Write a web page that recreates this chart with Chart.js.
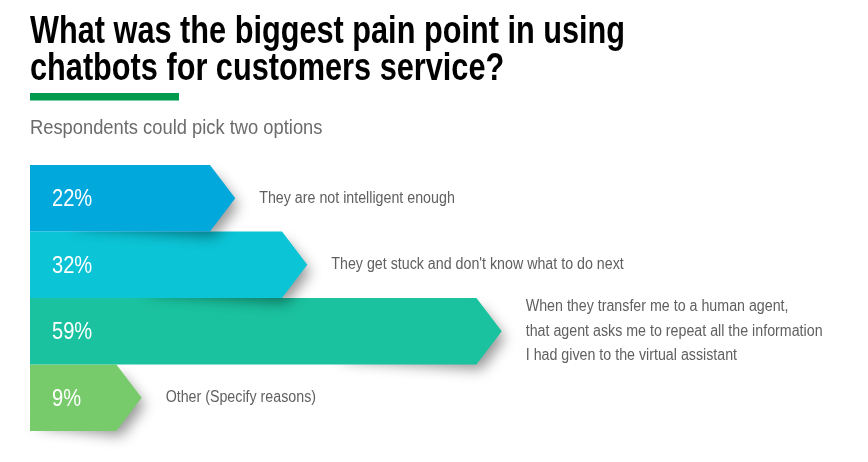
<!DOCTYPE html>
<html lang="en">
<head>
    <meta charset="UTF-8">
    <title>Chatbot pain points</title>
    <script src="https://cdn.jsdelivr.net/npm/chart.js"></script>
    <style>
        html, body { margin: 0; padding: 0; background: #fff; }
        .chart-container { width: 868px; height: 462px; }
    </style>
</head>
<body>
    <div class="chart-container">
        <canvas id="painChart"></canvas>
    </div>

    <script>
        const titleLines = ['What was the biggest pain point in using', 'chatbots for customers service?'];
        const subtitle = 'Respondents could pick two options';

        // Answers (one entry per bar, multi-line where the label wraps)
        const answers = [
            ['They are not intelligent enough'],
            ["They get stuck and don't know what to do next"],
            ['When they transfer me to a human agent,', 'that agent asks me to repeat all the information', 'I had given to the virtual assistant'],
            ['Other (Specify reasons)']
        ];
        const shares = [22, 32, 59, 9];
        const barColors = ['#00A8DC', '#0BC4D6', '#1AC29F', '#77CB6B'];

        const FONT = '"Liberation Sans", Arial, sans-serif';

        // no condensed Helvetica around, so squeeze Liberation Sans horizontally
        function narrowText(ctx, text, x, y, sx) {
            ctx.save();
            ctx.translate(x, y);
            ctx.scale(sx, 1);
            ctx.fillText(text, 0, 0);
            ctx.restore();
        }

        const arrowBars = {
            id: 'arrowBars',
            beforeDraw(chart) {
                const ctx = chart.ctx;
                ctx.save();
                ctx.textBaseline = 'alphabetic';
                ctx.fillStyle = '#000000';
                ctx.font = 'bold 39px ' + FONT;
                titleLines.forEach((line, i) => narrowText(ctx, line, 30, 43 + i * 37, 0.787));

                ctx.fillStyle = '#009A4E';
                ctx.fillRect(30, 93, 149, 7.5);

                ctx.fillStyle = '#6b6b6b';
                ctx.font = '19.5px ' + FONT;
                narrowText(ctx, subtitle, 30, 134, 0.94);
                ctx.restore();
            },
            afterDatasetsDraw(chart) {
                const ctx = chart.ctx;
                const meta = chart.getDatasetMeta(0);
                const left = chart.chartArea.left;

                // bottom bar first, so each bar's shadow falls on the one below
                for (let i = meta.data.length - 1; i >= 0; i--) {
                    const bar = meta.data[i];
                    const top = bar.y - bar.height / 2;
                    const bottom = bar.y + bar.height / 2;
                    const depth = bar.height * 0.38;

                    // soft shadow around the arrow head, fading out to the left
                    ctx.save();
                    ctx.shadowColor = 'rgba(0,0,0,0.42)';
                    ctx.shadowBlur = 14;
                    ctx.shadowOffsetX = 5;
                    ctx.shadowOffsetY = 7;
                    ctx.beginPath();
                    ctx.moveTo(bar.x - depth - 10, top + 6);
                    ctx.lineTo(bar.x - depth, top + 4);
                    ctx.lineTo(bar.x - 2, bar.y);
                    ctx.lineTo(bar.x - depth, bottom - 2);
                    ctx.lineTo(Math.max(left, bar.x - 170), bottom - 12);
                    ctx.closePath();
                    ctx.fillStyle = barColors[i];
                    ctx.fill();
                    ctx.restore();

                    ctx.beginPath();
                    ctx.moveTo(left, top);
                    ctx.lineTo(bar.x - depth, top);
                    ctx.lineTo(bar.x, bar.y);
                    ctx.lineTo(bar.x - depth, bottom);
                    ctx.lineTo(left, bottom);
                    ctx.closePath();
                    ctx.fillStyle = barColors[i];
                    ctx.fill();
                }

                meta.data.forEach((bar, i) => {
                    ctx.save();
                    ctx.textBaseline = 'middle';
                    ctx.fillStyle = '#ffffff';
                    ctx.font = '24.5px ' + FONT;
                    narrowText(ctx, shares[i] + '%', left + 22, bar.y + 1, 0.82);

                    const lines = answers[i];
                    const lineH = 24.5;
                    ctx.fillStyle = '#606060';
                    ctx.font = '16px ' + FONT;
                    lines.forEach((line, j) => {
                        const y = bar.y + (j - (lines.length - 1) / 2) * lineH;
                        narrowText(ctx, line, bar.x + 24, y, 0.89);
                    });
                    ctx.restore();
                });
            }
        };

        const ctx = document.getElementById('painChart').getContext('2d');
        new Chart(ctx, {
            type: 'bar',
            data: {
                labels: answers.map(a => a.join(' ')),
                datasets: [{
                    data: shares,
                    backgroundColor: 'rgba(0,0,0,0)',
                    barPercentage: 1,
                    categoryPercentage: 1
                }]
            },
            options: {
                indexAxis: 'y',
                responsive: true,
                maintainAspectRatio: false,
                animation: false,
                layout: { padding: { top: 165, left: 30, right: 71, bottom: 31 } },
                scales: {
                    x: { display: false, min: -6.5, max: 100 },
                    y: { display: false }
                },
                plugins: {
                    legend: { display: false },
                    tooltip: { enabled: false }
                }
            },
            plugins: [arrowBars]
        });
    </script>
</body>
</html>
